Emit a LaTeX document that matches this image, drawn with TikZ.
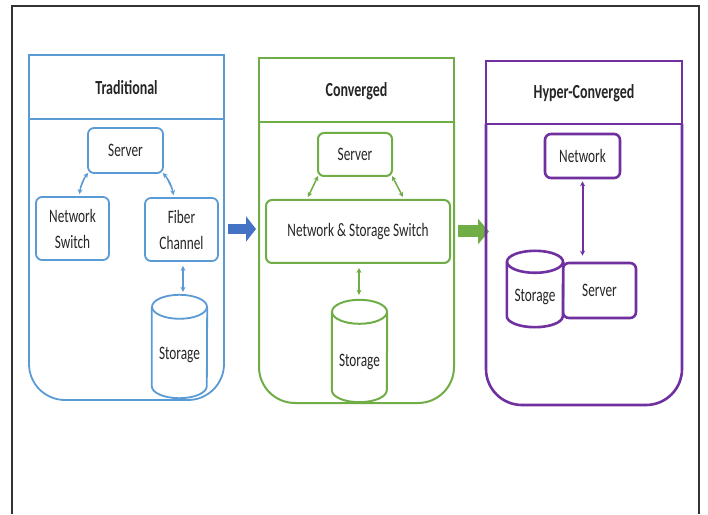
\documentclass[tikz,border=0pt]{standalone}
\usepackage{fontspec}
\setmainfont{Carlito}[FakeStretch=0.7]
\usetikzlibrary{arrows.meta,calc}
\definecolor{cblue}{HTML}{5B9BD5}
\definecolor{cbluearr}{HTML}{4472C4}
\definecolor{cgreen}{HTML}{70AD47}
\definecolor{cpurple}{HTML}{7030A0}
\definecolor{ctext}{HTML}{262626}
\newcommand{\drawcyl}[4]{% node, style, rx, ry
  \fill[white] ($(#1.north west)+(0,-#4)$) rectangle ($(#1.south east)+(0,#4)$);
  \draw[#2] ($(#1.north west)+(0,-#4)$) -- ($(#1.south west)+(0,#4)$)
     arc[start angle=180,end angle=360,x radius=#3,y radius=#4] -- ($(#1.north east)+(0,-#4)$);
  \draw[#2] ($(#1.north)+(0,-#4)$) ellipse[x radius=#3,y radius=#4];
}
\tikzset{
  box/.style={rounded corners=6pt, align=center, inner sep=0pt, fill=white, text=ctext},
  cylbox/.style={inner sep=0pt},
  lbl/.style={text=ctext},
  title/.style={text=ctext, font=\fontsize{20}{24}\selectfont\bfseries},
  smallarr/.style={{Stealth[length=5pt,width=5pt]}-{Stealth[length=5pt,width=5pt]}},
  bluel/.style={draw=cblue, line width=1.8pt},
  greenl/.style={draw=cgreen, line width=2pt},
  purplel/.style={draw=cpurple, line width=2.6pt},
}
\begin{document}
\begin{tikzpicture}[x=1pt,y=1pt,font=\fontsize{19}{26}\selectfont]
\useasboundingbox (0,0) rectangle (708,514);
\fill[white] (0,0) rectangle (708,514);
% outer frame
\draw[line width=1.6pt, black!80] (12,0) -- (12,508) -- (699,508) -- (699,0);

% ---------- Traditional ----------
\draw[bluel] (29,395) rectangle (224,459);
\draw[bluel, rounded corners=36pt] (29,395) -- (29,114) -- (224,114) -- (224,395);
\node[title] (t1) at (126.5,426) {Traditional};
\node[box, bluel, minimum width=75pt, minimum height=45pt] (srv1) at (125.5,363.5) {Server};
\node[box, bluel, minimum width=73pt, minimum height=63pt] (nsw) at (72.5,285.5) {Network\\Switch};
\node[box, bluel, minimum width=73pt, minimum height=63pt] (fib) at (181.5,284.5) {Fiber\\Channel};
\node[cylbox, minimum width=55pt, minimum height=103pt] (st1) at (179.5,167.5) {};
\drawcyl{st1}{bluel}{27.5}{12}
\node[lbl] (st1t) at (179.5,159) {Storage};
\draw[smallarr, draw=cblue, fill=cblue, line width=1.3pt] ([shift={(1,1)}]srv1.south west) to[bend right=15] ([xshift=7pt,yshift=2pt]nsw.north);
\draw[smallarr, draw=cblue, fill=cblue, line width=1.3pt] ([shift={(-1,1)}]srv1.south east) to[bend left=15] ([xshift=-8pt,yshift=2pt]fib.north);
\draw[smallarr, draw=cblue, line width=1.3pt, shorten <=4pt, shorten >=3pt] ([xshift=1.5pt]fib.south) -- ([xshift=1.5pt]fib.south |- st1.north);

% big blue arrow
\coordinate (a1s) at (228,285);
\coordinate (a1e) at (256,285);
\draw[cbluearr, line width=10pt, -{Triangle[length=10pt,width=25pt]}] (a1s) -- (a1e);

% ---------- Converged ----------
\draw[greenl] (259,392) rectangle (454,456);
\draw[greenl, rounded corners=36pt] (259,392) -- (259,111) -- (454,111) -- (454,392);
\node[title] (t2) at (356.5,423) {Converged};
\node[box, greenl, minimum width=74pt, minimum height=43pt] (srv2) at (355,359.5) {Server};
\node[box, greenl, minimum width=184pt, minimum height=63pt] (sw) at (358,282.5) {Network \& Storage Switch};
\node[cylbox, minimum width=55pt, minimum height=102pt] (st2) at (359.5,163) {};
\drawcyl{st2}{greenl}{27.5}{12}
\node[lbl] (st2t) at (359.5,152) {Storage};
\draw[smallarr, draw=cgreen, line width=1.5pt] ([shift={(1,1)}]srv2.south west) -- ([xshift=-50pt,yshift=2pt]sw.north);
\draw[smallarr, draw=cgreen, line width=1.5pt] ([shift={(-1,1)}]srv2.south east) -- ([xshift=45pt,yshift=2pt]sw.north);
\draw[smallarr, draw=cgreen, line width=1.5pt, shorten <=4pt, shorten >=5pt] ([xshift=1pt]sw.south) -- ([xshift=1pt]sw.south |- st2.north);

% big green arrow
\coordinate (a2s) at (458,282.5);
\coordinate (a2e) at (489,282.5);
\draw[cgreen, line width=12pt, -{Triangle[length=11pt,width=25pt]}] (a2s) -- (a2e);

% ---------- Hyper-Converged ----------
\draw[purplel] (486,390) rectangle (682,453);
\draw[purplel, rounded corners=36pt] (486,390) -- (486,109) -- (682,109) -- (682,390);
\node[title] (t3) at (584,421) {Hyper-Converged};
\node[box, purplel, minimum width=75pt, minimum height=44pt] (net) at (582.5,358) {Network};
\node[box, purplel, minimum width=73pt, minimum height=55pt] (srv3) at (599.5,223.5) {Server};
\node[cylbox, minimum width=56pt, minimum height=76pt] (st3) at (535,225) {};
\drawcyl{st3}{purplel}{28}{11}
\node[lbl] (st3t) at (535,217) {Storage};
\draw[smallarr, draw=cpurple, line width=2pt, shorten <=2pt, shorten >=6pt] (net.south) -- (net.south |- srv3.north);
\end{tikzpicture}
\end{document}
